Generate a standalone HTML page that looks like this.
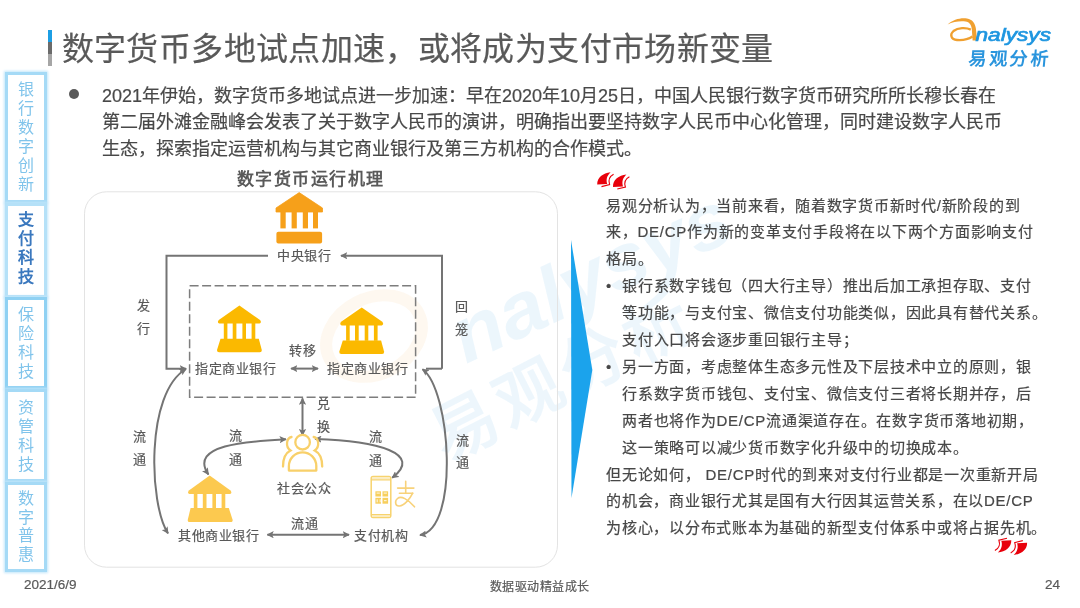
<!DOCTYPE html>
<html lang="zh-CN"><head><meta charset="utf-8">
<style>
*{margin:0;padding:0;box-sizing:border-box}
html,body{width:1080px;height:608px;overflow:hidden;background:#fff}
body{will-change:transform}
body{position:relative;font-family:"Liberation Sans",sans-serif;color:#404040}
.a{-webkit-text-stroke:0.2px currentColor}
.a{position:absolute;white-space:nowrap}
svg{position:absolute;left:0;top:0}
.title{left:61.75px;top:28.75px;font-size:32px;letter-spacing:0.36px;line-height:40px;color:#595959}
.bar{position:absolute;left:48px;width:4px}
.para{left:102px;top:82.5px;font-size:18px;line-height:26.65px;color:#484848}
.tab{position:absolute;left:5.2px;width:41.6px;border:3.5px solid #a5daf6;box-shadow:0 0 2.5px 1px #c2e6fa;background:#fff;color:#80c4eb;font-size:16px;line-height:19px;text-align:center}
.t2{border-color:#b5e1f8;color:#3a78be;font-weight:bold}
.tab div{width:100%}
.foot{font-size:13.5px;line-height:14px;color:#595959}
.lb{font-size:13px;letter-spacing:0.6px;line-height:14px;color:#595959}
.rt{left:606px;top:192.5px;font-size:15px;letter-spacing:0.75px;line-height:26.9px;color:#474747}
.rt .li{position:relative;padding-left:16px}
.rt .li:before{content:"•";position:absolute;left:0px;top:0}
</style></head><body>
<!-- watermark -->
<svg width="1080" height="608" viewBox="0 0 1080 608">
 <text transform="translate(466,364) rotate(-25)" x="0" y="0" font-family="Liberation Sans" font-style="italic" font-weight="bold" font-size="78" fill="#1e96e0" opacity="0.08" textLength="300" lengthAdjust="spacingAndGlyphs">nalysys</text>
 <text transform="translate(446,462) rotate(-27)" x="0" y="0" font-family="Liberation Sans" font-weight="bold" font-size="66" fill="#1e96e0" opacity="0.075" letter-spacing="6">易观分析</text>
 <ellipse cx="374" cy="336" rx="50" ry="38" transform="rotate(-27 374 336)" fill="none" stroke="#f0a030" stroke-width="12" opacity="0.07"/>
</svg>

<div class="bar" style="top:30px;height:12px;background:#1c9ee4"></div>
<div class="bar" style="top:42px;height:12px;background:#6b6b6b"></div>
<div class="bar" style="top:54px;height:12px;background:#a6a6a6"></div>
<div class="a title">数字货币多地试点加速，或将成为支付市场新变量</div>

<!-- logo -->
<svg width="1080" height="80" viewBox="0 0 1080 80">
 <path d="M947.6 24.6 C953 19.5,961 17.6,967 18.6 C972.5 19.6,974.8 23,975.8 28 L977.2 40.6 L972.6 40.6 L971.8 29 C971.4 25,969.5 22.2,965.5 21.6 C960 20.8,953 22,947.6 24.6 Z" fill="#f0a030"/>
 <path d="M970.8 29.6 C966 27.2,958 27.5,953.5 31 C949.5 34.5,951 39.5,957 40 C963 40.5,969.5 38.5,972.5 36.5" fill="none" stroke="#f0a030" stroke-width="2.3"/>
 <text x="975.5" y="40.6" font-family="Liberation Sans" font-style="italic" font-size="19" fill="#1e96e0" stroke="#1e96e0" stroke-width="0.7" textLength="75.5" lengthAdjust="spacingAndGlyphs">nalysys</text>
</svg>
<div class="a" style="left:968.5px;top:47.5px;font-size:18px;line-height:22px;font-weight:bold;color:#2a95dd;letter-spacing:2.4px;-webkit-text-stroke:0;transform:skewX(-5deg)">易观分析</div>

<!-- tabs -->
<div class="tab" style="top:72.4px;height:131px;padding-top:4.3px">银<br>行<br>数<br>字<br>创<br>新</div>
<div class="tab t2" style="top:203px;height:94.5px;padding-top:4.4px">支<br>付<br>科<br>技</div>
<div class="tab" style="top:297.2px;height:92px;border-color:#8fd1f3;padding-top:4.4px">保<br>险<br>科<br>技</div>
<div class="tab" style="top:389.3px;height:93px;padding-top:6px">资<br>管<br>科<br>技</div>
<div class="tab" style="top:481.8px;height:90.5px;padding-top:5.2px;line-height:18.6px">数<br>字<br>普<br>惠</div>

<div class="a" style="left:69px;top:89px;width:10px;height:10px;border-radius:50%;background:#595959"></div>
<div class="a para">2021年伊始，数字货币多地试点进一步加速：早在2020年10月25日，中国人民银行数字货币研究所所长穆长春在<br>第二届外滩金融峰会发表了关于数字人民币的演讲，明确指出要坚持数字人民币中心化管理，同时建设数字人民币<br>生态，探索指定运营机构与其它商业银行及第三方机构的合作模式。</div>

<!-- diagram -->
<div class="a" style="left:236.5px;top:169px;font-size:17px;letter-spacing:1.55px;line-height:22px;font-weight:bold;color:#595959;-webkit-text-stroke:0">数字货币运行机理</div>
<svg width="1080" height="608" viewBox="0 0 1080 608">
 <defs>
  <marker id="ah" viewBox="0 0 10 10" refX="8.8" refY="5" markerWidth="7.2" markerHeight="7.2" markerUnits="userSpaceOnUse" orient="auto-start-reverse"><path d="M0 0 L10 5 L0 10 L2.2 5 z" fill="#747474"/></marker>
 </defs>
 <rect x="84.5" y="191.8" width="473" height="375.4" rx="22" fill="none" stroke="#e3e3e3" stroke-width="1"/>
 <rect x="189.6" y="285.8" width="226" height="111.5" fill="none" stroke="#7d7d7d" stroke-width="1.5" stroke-dasharray="9 3.5"/>
 <g stroke="#747474" stroke-width="2" fill="none">
  <path d="M268 255.7 H166.5 V368.7 H186" marker-end="url(#ah)"/>
  <path d="M442 368.7 V255.7 H341" marker-end="url(#ah)"/>
  <path d="M442 368.7 H426"/>
  <path d="M291.1 368.6 H318" marker-start="url(#ah)" marker-end="url(#ah)"/>
  <path d="M302.5 398.4 V435.3" marker-start="url(#ah)" marker-end="url(#ah)"/>
  <path d="M267.4 534.7 H349" marker-start="url(#ah)" marker-end="url(#ah)"/>
  <path d="M186 369 C145.3 392.9,149 504.2,168 533.4" marker-start="url(#ah)" marker-end="url(#ah)"/>
  <path d="M422.5 369.2 C450.7 389.5,459.8 529,420 535" marker-start="url(#ah)" marker-end="url(#ah)"/>
  <path d="M285.9 439.3 C251.9 441.2,187.4 443.7,208.4 474.5" marker-start="url(#ah)" marker-end="url(#ah)"/>
  <path d="M315.2 439 C377.7 440.6,423.8 453.9,392.2 477.8" marker-start="url(#ah)" marker-end="url(#ah)"/>
 </g>
 <!-- central bank -->
 <g fill="#f6a01a">
  <path d="M299.2 192.6 L322.5 208 V212 H276 V208 Z" stroke="#f6a01a" stroke-width="0.8" stroke-linejoin="round"/>
  <rect x="280.4" y="211" width="5.3" height="17.4"/>
  <rect x="291.6" y="211" width="5.2" height="17.4"/>
  <rect x="302.8" y="211" width="5.2" height="17.4"/>
  <rect x="313" y="211" width="5" height="17.4"/>
  <rect x="276.4" y="231.7" width="45.7" height="11.9" rx="2"/>
 </g>
 <!-- designated banks -->
 <g id="b2" fill="#fbb900">
  <path d="M239.4 305.6 L260 320 Q262 322.5 259.5 323.6 H219.3 Q216.8 322.5 218.8 320 Z"/>
  <rect x="223.8" y="323" width="3.6" height="16"/>
  <rect x="232.7" y="323" width="3.7" height="16"/>
  <rect x="242.4" y="323" width="3.6" height="16"/>
  <rect x="251.6" y="323" width="3.7" height="16"/>
  <path d="M220.5 338.7 H258.8 L261.8 350 Q262 352.2 259.8 352.2 H219 Q216.8 352.2 217 350 Z"/>
 </g>
 <use href="#b2" transform="translate(122.3,1.8)"/>
 <!-- other bank -->
 <g fill="#fcc94f">
  <path d="M209.7 475.5 L230.5 490.5 Q232.5 493 230 494 H189.4 Q186.9 493 188.9 490.5 Z"/>
  <rect x="193.8" y="493.5" width="3.6" height="15"/>
  <rect x="202.8" y="493.5" width="3.7" height="15"/>
  <rect x="212.4" y="493.5" width="3.6" height="15"/>
  <rect x="221.6" y="493.5" width="3.7" height="15"/>
  <path d="M190.6 508 H228.8 L232.6 519.7 Q233 522 230.6 522 H189.8 Q187.4 522 187.8 519.7 Z"/>
 </g>
 <!-- people -->
 <g fill="none" stroke="#f8d06a" stroke-width="2.3" stroke-linecap="round">
  <circle cx="302.6" cy="442.2" r="7.3"/>
  <path d="M288.9 470.6 V466 A13.7 13.7 0 0 1 316.3 466 V470.6 Z" stroke-linejoin="round"/>
  <path d="M291.5 437 C286.5 438,285 446.5,290.5 450.5 C285.5 453,283 459,283 466.5"/>
  <path d="M313.7 437 C318.7 438,320.2 446.5,314.7 450.5 C319.7 453,322.2 459,322.2 466.5"/>
 </g>
 <!-- phone -->
 <g fill="none" stroke="#f7d36e" stroke-width="1.5">
  <rect x="371.2" y="476.4" width="19.6" height="41" rx="1.8"/>
  <path d="M371.2 479.8 H390.8 M371.2 514.8 H390.8"/>
 </g>
 <g fill="#fbecc0"><rect x="372" y="477.2" width="18" height="2.2"/><rect x="372" y="515.4" width="18" height="1.6"/></g>
 <g fill="#f7cf5e">
  <rect x="375.4" y="491.3" width="5.6" height="5.2"/><rect x="382.5" y="491.3" width="5.6" height="5.2"/>
  <rect x="375.4" y="497.8" width="5.6" height="5.9"/><rect x="382.5" y="497.8" width="5.6" height="5.9"/>
 </g>
 <g fill="#fdf3d6">
  <rect x="376.6" y="492.5" width="3.2" height="1.2"/><rect x="383.7" y="492.5" width="3.2" height="1.2"/>
  <rect x="376.6" y="499.3" width="1.2" height="3"/><rect x="379.6" y="499.3" width="1.2" height="3"/><rect x="384" y="500" width="2.6" height="1.2"/>
 </g>
 <g fill="none" stroke="#f8d27a" stroke-width="1.6" stroke-linecap="round">
  <path d="M397.6 488.1 H413.9 M405.7 481.3 V493.2 M399.4 493.2 H412.7"/>
  <path d="M412.7 493.2 C410 499,404 505.5,399.5 506 C395 506.5,394.5 501,397.5 498.5 C401 495.5,408 499,414.5 506.8"/>
 </g>
 <!-- triangle -->
 <path d="M571 240 L592.3 370 L571.5 498 Z" fill="#1ba3ec"/>
 <!-- quotes -->
 <g id="qo">
  <path d="M610.6 172.2 C603 173,597 177.5,597.2 184.5 L607.2 184 C606 180,606.5 176,610.6 172.2 Z" fill="#e8000b"/>
  <path d="M613.6 174.3 C609.5 176.5,608.2 180.5,609.6 184.6 L601.5 186.6" fill="none" stroke="#e8000b" stroke-width="1.1"/>
  <path d="M626.4 174.6 C618.8 175.4,612.8 179.9,613 186.9 L623 186.4 C621.8 182.4,622.3 178.4,626.4 174.6 Z" fill="#e8000b"/>
  <path d="M629.4 176.7 C625.3 178.9,624 182.9,625.4 187 L617.3 189" fill="none" stroke="#e8000b" stroke-width="1.1"/>
 </g>
 <use href="#qo" transform="translate(1011.45,546.8) rotate(180) translate(-612.85,-180.4)"/>
</svg>
<div class="lb a" style="left:277px;top:249px">中央银行</div>
<div class="lb a" style="left:136.5px;top:293.5px;line-height:23px">发<br>行</div>
<div class="lb a" style="left:454.5px;top:294.5px;line-height:23px">回<br>笼</div>
<div class="lb a" style="left:289px;top:344px">转移</div>
<div class="lb a" style="left:195px;top:362px">指定商业银行</div>
<div class="lb a" style="left:327px;top:362px">指定商业银行</div>
<div class="lb a" style="left:317px;top:391.5px;line-height:23px">兑<br>换</div>
<div class="lb a" style="left:133px;top:425px;line-height:23px">流<br>通</div>
<div class="lb a" style="left:228.5px;top:423.6px;line-height:24.7px">流<br>通</div>
<div class="lb a" style="left:369px;top:425.2px;line-height:24px">流<br>通</div>
<div class="lb a" style="left:456px;top:430px;line-height:21.8px">流<br>通</div>
<div class="lb a" style="left:277px;top:481.5px">社会公众</div>
<div class="lb a" style="left:291px;top:517px">流通</div>
<div class="lb a" style="left:178px;top:529px">其他商业银行</div>
<div class="lb a" style="left:354px;top:529px">支付机构</div>

<div class="a rt">易观分析认为，当前来看，随着数字货币新时代/新阶段的到<br>来，DE/CP作为新的变革支付手段将在以下两个方面影响支付<br>格局。
<div class="li">银行系数字钱包（四大行主导）推出后加工承担存取、支付<br>等功能，与支付宝、微信支付功能类似，因此具有替代关系。<br>支付入口将会逐步重回银行主导；</div>
<div class="li">另一方面，考虑整体生态多元性及下层技术中立的原则，银<br>行系数字货币钱包、支付宝、微信支付三者将长期并存，后<br>两者也将作为DE/CP流通渠道存在。在数字货币落地初期，<br>这一策略可以减少货币数字化升级中的切换成本。</div>
但无论如何， DE/CP时代的到来对支付行业都是一次重新开局<br>的机会，商业银行尤其是国有大行因其运营关系，在以DE/CP<br>为核心，以分布式账本为基础的新型支付体系中或将占据先机。</div>

<div class="a foot" style="left:24px;top:578px">2021/6/9</div>
<div class="a foot" style="left:490px;top:579.5px;font-size:12px;letter-spacing:0.45px">数据驱动精益成长</div>
<div class="a foot" style="left:1045px;top:578px">24</div>
</body></html>
